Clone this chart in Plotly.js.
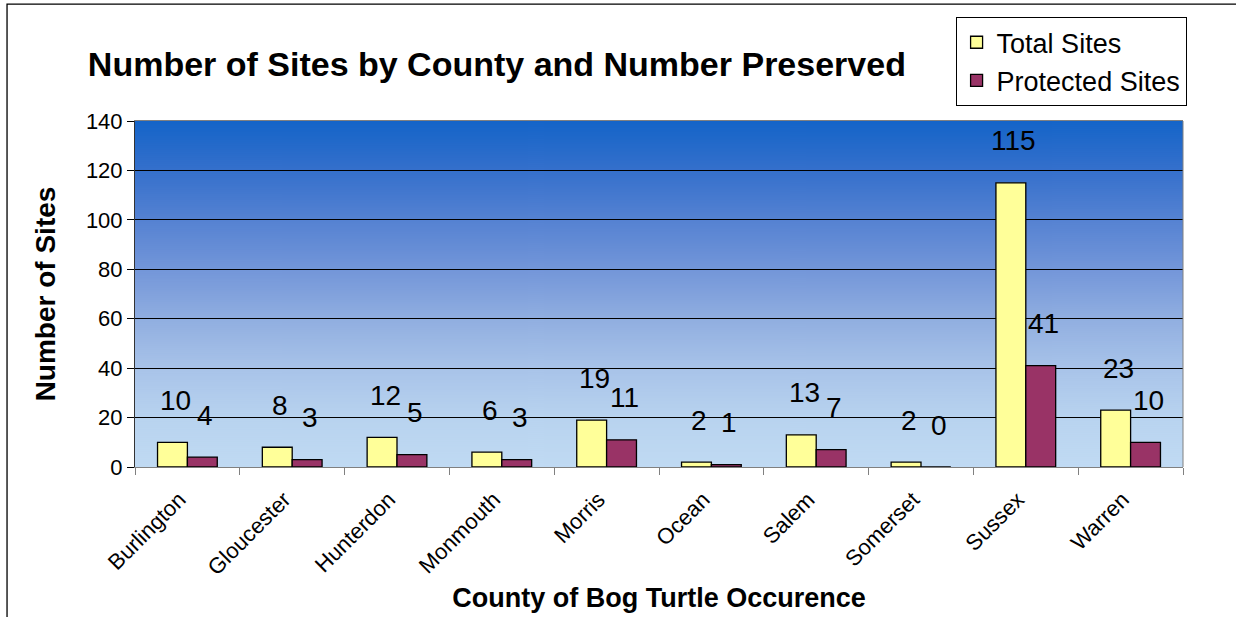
<!DOCTYPE html>
<html>
<head>
<meta charset="utf-8">
<script src="https://cdn.plot.ly/plotly-3.0.1.min.js"></script>
<style>
  html, body { margin: 0; padding: 0; background: #ffffff; }
  #chart { width: 1236px; height: 617px; }
</style>
</head>
<body>
<div id="chart"></div>
<script>
// Bog turtle sites per county
const counties = ["Burlington", "Gloucester", "Hunterdon", "Monmouth", "Morris",
                  "Ocean", "Salem", "Somerset", "Sussex", "Warren"];
const totalSites = [10, 8, 12, 6, 19, 2, 13, 2, 115, 23];
const protectedSites = [4, 3, 5, 3, 11, 1, 7, 0, 41, 10];
const yTicks = [0, 20, 40, 60, 80, 100, 120, 140];

// Vertical blue gradient used as the plot-area fill
function gradientImage() {
  const c = document.createElement("canvas");
  c.width = 4; c.height = 346;
  const g = c.getContext("2d");
  const grad = g.createLinearGradient(0, 0, 0, c.height);
  grad.addColorStop(0.000, "#1464C8");
  grad.addColorStop(0.143, "#3570CC");
  grad.addColorStop(0.286, "#5582D2");
  grad.addColorStop(0.429, "#7396D9");
  grad.addColorStop(0.571, "#90AEE0");
  grad.addColorStop(0.714, "#A8C3E9");
  grad.addColorStop(0.857, "#B8D3EF");
  grad.addColorStop(1.000, "#C0DAF3");
  g.fillStyle = grad;
  g.fillRect(0, 0, c.width, c.height);
  return c.toDataURL("image/png");
}

const font = "Liberation Sans, Arial, sans-serif";

const traces = [
  {
    type: "bar", name: "Total Sites", x: counties, y: totalSites,
    marker: { color: "#FFFF99", line: { color: "#000000", width: 1.3 } },
    hoverinfo: "x+y"
  },
  {
    type: "bar", name: "Protected Sites", x: counties, y: protectedSites,
    marker: { color: "#993366", line: { color: "#000000", width: 1.3 } },
    hoverinfo: "x+y"
  }
];

// Value labels floating above each bar
const annotations = [];
counties.forEach((c, i) => {
  annotations.push({
    x: c, y: totalSites[i], text: String(totalSites[i]),
    showarrow: false, xshift: -12, yshift: 42, yanchor: "middle",
    font: { family: font, size: 28, color: "#000000" }
  });
  annotations.push({
    x: c, y: protectedSites[i], text: String(protectedSites[i]),
    showarrow: false, xshift: 18, yshift: 42, yanchor: "middle",
    font: { family: font, size: 28, color: "#000000" }
  });
});

const layout = {
  width: 1236, height: 617,
  margin: { l: 135, r: 53, t: 121, b: 150 },
  paper_bgcolor: "#ffffff",
  plot_bgcolor: "rgba(0,0,0,0)",
  barmode: "group",
  bargap: 0.43,
  bargroupgap: 0,
  showlegend: true,
  title: {
    text: "<b>Number of Sites by County and Number Preserved</b>",
    font: { family: font, size: 34, color: "#000000" },
    x: 0.402, xanchor: "center", y: 0.896, yanchor: "middle"
  },
  legend: {
    x: 0.783, y: 1.30, xanchor: "left", yanchor: "top",
    bgcolor: "#ffffff", bordercolor: "#000000", borderwidth: 1,
    font: { family: font, size: 27, color: "#000000" },
    traceorder: "normal"
  },
  xaxis: {
    type: "category",
    tickangle: -45,
    tickson: "boundaries",
    ticks: "outside", ticklen: 7, tickcolor: "#808080",
    ticklabelstandoff: 10,
    ticklabelshift: -8,
    showline: true, linecolor: "#808080", linewidth: 1, mirror: true,
    showgrid: false,
    tickfont: { family: font, size: 22, color: "#000000" },
    title: {
      text: "<b>County of Bog Turtle Occurence</b>",
      font: { family: font, size: 27, color: "#000000" },
      standoff: 9
    }
  },
  yaxis: {
    range: [0, 140],
    tickvals: yTicks,
    ticks: "outside", ticklen: 7, tickcolor: "#000000",
    showline: true, linecolor: "#333333", linewidth: 1,
    showgrid: true, gridcolor: "#000000", gridwidth: 1,
    zeroline: false,
    tickfont: { family: font, size: 22, color: "#000000" },
    title: {
      text: "<b>Number of Sites</b>",
      font: { family: font, size: 28, color: "#000000" },
      standoff: 22
    }
  },
  images: [{
    source: gradientImage(),
    xref: "paper", yref: "paper", x: 0, y: 1, sizex: 1, sizey: 1,
    xanchor: "left", yanchor: "top", sizing: "stretch", layer: "below"
  }],
  shapes: [
    // right edge of the plot area
    { type: "line", xref: "paper", yref: "paper", x0: 1, x1: 1, y0: 0, y1: 1,
      line: { color: "#808080", width: 1 }, layer: "above" },
    // outer chart frame
    { type: "rect", xref: "paper", yref: "paper",
      x0: -0.1221, x1: 1.07, y0: -0.6, y1: 1.338,
      line: { color: "#000000", width: 1.3 }, fillcolor: "rgba(0,0,0,0)", layer: "above" }
  ],
  annotations: annotations
};

Plotly.newPlot("chart", traces, layout, { displayModeBar: false, staticPlot: true });
</script>
</body>
</html>
